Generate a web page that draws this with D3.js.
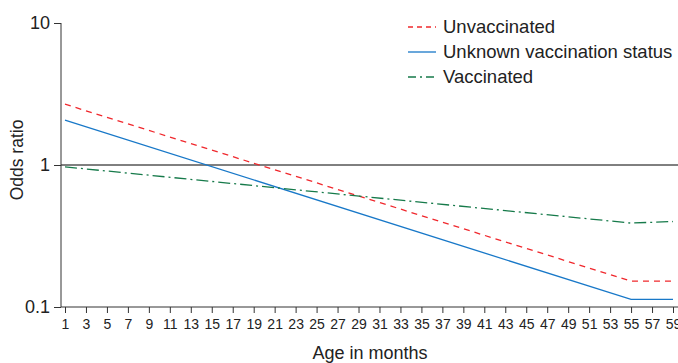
<!DOCTYPE html>
<html><head><meta charset="utf-8">
<script src="https://cdn.jsdelivr.net/npm/d3@7"></script>
<style>body{margin:0;background:#fff}svg{display:block;font-family:"Liberation Sans",Arial,sans-serif}</style>
</head><body><svg id="c" width="678" height="363"></svg>
<script>
const ages = [1, 55, 59];
const unvaccinated = [2.68, 0.152, 0.152];
const unknownStatus = [2.07, 0.113, 0.113];
const vaccinated = [0.97, 0.39, 0.40];
const xTicks = d3.range(1, 60, 2);
const yTicks = [0.1, 1, 10];
const seriesNames = ["Unvaccinated", "Unknown vaccination status", "Vaccinated"];

const svg = d3.select("#c");
const x = d3.scaleLinear().domain([1, 59]).range([65, 673]);
const y = d3.scaleLog().domain([0.1, 10]).range([307, 23]);
const txt = "#222";

// reference line at 1
svg.append("line").attr("x1", 61).attr("x2", 678).attr("y1", y(1)).attr("y2", y(1))
  .attr("stroke", "#000").attr("stroke-width", 1);

const series = [
  {name: seriesNames[0], vals: unvaccinated, color: "#f0282d", dash: "6,5"},
  {name: seriesNames[1], vals: unknownStatus, color: "#1878c8", dash: null},
  {name: seriesNames[2], vals: vaccinated, color: "#167a4a", dash: "12,4,2,4"}
];
const line = d3.line().x(d => x(d[0])).y(d => y(d[1]));
series.forEach(s => {
  svg.append("path").attr("d", line(ages.map((a, i) => [a, s.vals[i]])))
    .attr("fill", "none").attr("stroke", s.color).attr("stroke-width", 1.3)
    .attr("stroke-dasharray", s.dash);
});

// axes
const yAxis = svg.append("g").attr("transform", "translate(61,0)")
  .call(d3.axisLeft(y).tickValues(yTicks).tickFormat(d => d === 0.1 ? "0.1" : d3.format("d")(d)).tickSize(7).tickPadding(4));
yAxis.select(".domain").attr("d", `M0,${y(10)}V${y(0.1)}`).attr("stroke", "#333");
yAxis.selectAll("text").attr("font-size", 18).attr("fill", txt);
yAxis.selectAll(".tick line").attr("stroke", "#333");

svg.append("line").attr("x1", 61).attr("x2", 678).attr("y1", 307).attr("y2", 307).attr("stroke", "#333");
const xAxis = svg.append("g").attr("transform", "translate(0,307)")
  .call(d3.axisBottom(x).tickValues(xTicks).tickFormat(d3.format("d")).tickSize(6).tickPadding(6));
xAxis.select(".domain").remove();
xAxis.selectAll(".tick line").attr("stroke", "#333");
xAxis.selectAll("text").attr("font-size", 14).attr("fill", txt);

svg.append("text").attr("x", 370).attr("y", 359).attr("text-anchor", "middle")
  .attr("font-size", 18).attr("fill", txt).text("Age in months");
svg.append("text").attr("transform", "translate(23,160) rotate(-90)").attr("text-anchor", "middle")
  .attr("font-size", 17.5).attr("fill", txt).text("Odds ratio");

// legend
series.forEach((s, i) => {
  const yy = 27 + i * 25;
  svg.append("line").attr("x1", 408).attr("x2", 436).attr("y1", yy).attr("y2", yy)
    .attr("stroke", s.color).attr("stroke-width", 1.3).attr("stroke-dasharray", s.dash ? (i === 0 ? "5,4" : "8,4,2,4") : null);
  svg.append("text").attr("x", 443).attr("y", yy + 5.5).attr("font-size", 18.5).attr("fill", txt).text(s.name);
});
</script></body></html>
